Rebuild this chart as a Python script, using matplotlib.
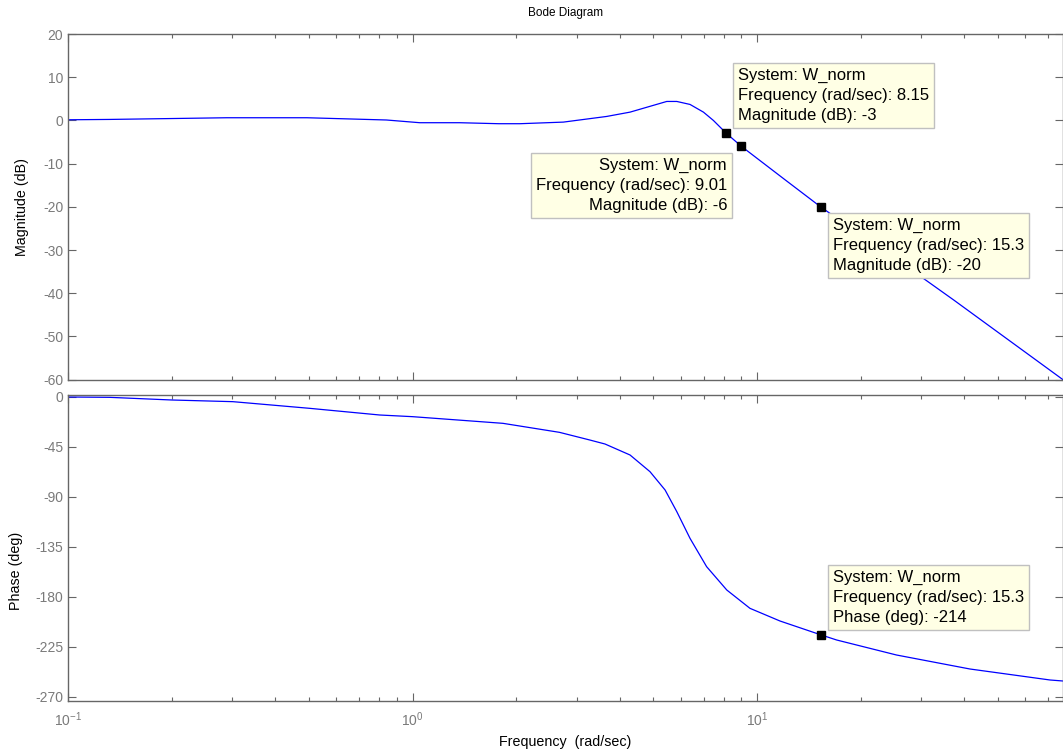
import numpy as np
import matplotlib
matplotlib.use('Agg')
import matplotlib.pyplot as plt
from matplotlib.ticker import LogLocator, NullFormatter, FixedLocator

matplotlib.rcParams['font.family'] = ['Liberation Sans', 'DejaVu Sans']
matplotlib.rcParams['axes.unicode_minus'] = False

# magnitude curve
mag_w = [0.1, 0.132, 0.289, 0.494, 0.84, 1.05, 1.37, 1.78, 2.05, 2.74, 3.66, 4.28,
         5.47, 5.85, 6.39, 6.99, 7.47, 8.15, 9.01, 12.0, 15.3, 20.0, 30.7, 37.3,
         50.0, 60.0, 77.3]
mag_db = [0.15, 0.23, 0.62, 0.62, 0.1, -0.53, -0.53, -0.76, -0.76, -0.39, 0.92, 1.92,
          4.39, 4.39, 3.7, 1.92, 0.0, -3.0, -6.0, -13.6, -20.0, -26.5, -36.8, -41.6,
          -49.0, -53.6, -60.0]

# phase curve
ph_w = [0.1, 0.132, 0.2, 0.301, 0.503, 0.803, 1.0, 1.83, 2.67, 3.27, 3.62, 4.28,
        4.89, 5.41, 5.85, 6.39, 7.14, 8.17, 9.54, 11.66, 15.3, 17.03, 25.4, 41.5,
        70.9, 77.3]
ph_deg = [0, -0.3, -2.7, -4.2, -10.2, -16.2, -17.7, -23.7, -31.8, -38.7, -42.3, -52.2,
          -67.2, -83.7, -103.2, -127.2, -152.7, -173.7, -190.2, -201.6, -214, -218.7,
          -232.2, -244.8, -254.7, -255.6]

# data tips
tip_w = [8.15, 9.01, 15.3]
tip_db = [-3, -6, -20]
tip_ph_w = 15.3
tip_ph = -214

mag_ticks = [20, 10, 0, -10, -20, -30, -40, -50, -60]
ph_ticks = [0, -45, -90, -135, -180, -225, -270]

W, H = 1063, 750
fig = plt.figure(figsize=(W / 100, H / 100), dpi=100)

def fx(px):
    return px / W

def fy(py):
    return 1 - py / H

ax1 = fig.add_axes([fx(68), fy(379.7), fx(1063 - 68), (379.7 - 34) / H])
ax2 = fig.add_axes([fx(68), fy(701), fx(1063 - 68), (701 - 395) / H])

gray = '#666666'
tickgray = '#7a7a7a'
for ax in (ax1, ax2):
    ax.set_xscale('log')
    ax.set_xlim(0.1, 77.3)
    for s in ax.spines.values():
        s.set_color(gray)
        s.set_linewidth(1.0)
    ax.tick_params(which='major', direction='in', length=6, width=0.8, color=gray,
                   top=True, right=True, labelsize=10, labelcolor=tickgray)
    ax.tick_params(which='minor', direction='in', length=3, width=0.8, color=gray,
                   top=True, right=True)
    ax.xaxis.set_major_locator(LogLocator(base=10, numticks=10))
    ax.xaxis.set_minor_locator(LogLocator(base=10, subs=np.arange(2, 10), numticks=20))
    ax.xaxis.set_minor_formatter(NullFormatter())

ax1.plot(mag_w, mag_db, color='#0000ff', lw=0.9)
ax1.set_ylim(-60, 20)
ax1.yaxis.set_major_locator(FixedLocator(mag_ticks))
ax1.tick_params(labelbottom=False)
ax1.set_ylabel('Magnitude (dB)', fontsize=10.3)
ax1.yaxis.set_label_coords(-0.039, 0.5)
ax1.set_title('Bode Diagram', fontsize=8.5, pad=13)

ax2.plot(ph_w, ph_deg, color='#0000ff', lw=0.9)
ax2.set_ylim(-273.6, 1.8)
ax2.yaxis.set_major_locator(FixedLocator(ph_ticks))
ax2.tick_params(axis='x', which='major', pad=7)
ax2.set_ylabel('Phase (deg)', fontsize=10.3)
ax2.yaxis.set_label_coords(-0.045, 0.425)
ax2.set_xlabel('Frequency  (rad/sec)', fontsize=10.3, labelpad=4)

box = dict(boxstyle='square,pad=0.3', fc='#ffffe5', ec='#c0c0c0', lw=1.0)

ax1.plot(tip_w, tip_db, 's', color='black', ms=6, zorder=5)
ax2.plot([tip_ph_w], [tip_ph], 's', color='black', ms=6, zorder=5)

def tip(txt, x, y, ha):
    fig.text(fx(x), fy(y), txt, ha=ha, va='top',
             fontsize=12, linespacing=1.42, bbox=box, zorder=6)

tip('System: W_norm\nFrequency (rad/sec): %.2f\nMagnitude (dB): %d' % (tip_w[0], tip_db[0]),
    738, 68, 'left')
tip('System: W_norm\nFrequency (rad/sec): %.2f\nMagnitude (dB): %d' % (tip_w[1], tip_db[1]),
    727, 158, 'right')
tip('System: W_norm\nFrequency (rad/sec): %.1f\nMagnitude (dB): %d' % (tip_w[2], tip_db[2]),
    833, 218, 'left')
tip('System: W_norm\nFrequency (rad/sec): %.1f\nPhase (deg): %d' % (tip_ph_w, tip_ph),
    833, 570, 'left')

fig.savefig('out.png', dpi=100)
